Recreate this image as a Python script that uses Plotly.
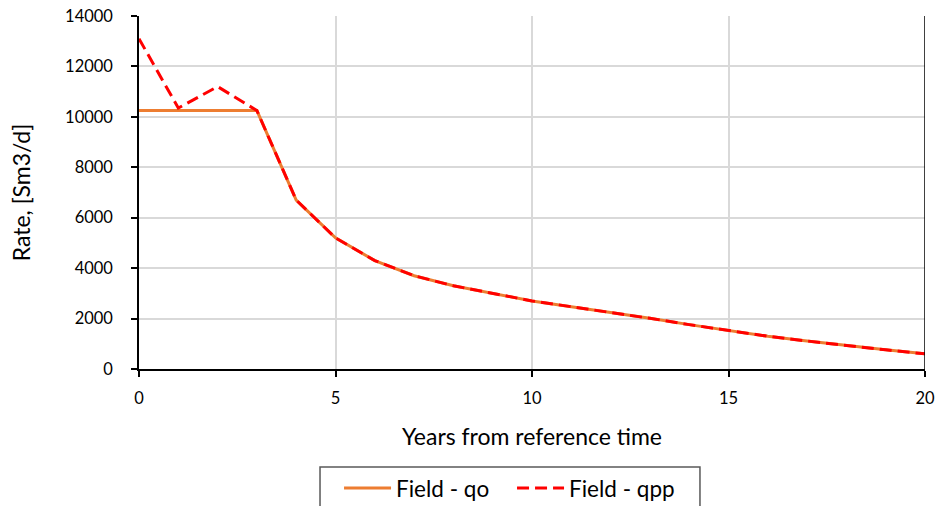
import plotly.graph_objects as go

# Years from reference time
years = list(range(0, 21))

# Field oil rate, qo [Sm3/d]
field_qo = [10250, 10250, 10250, 10250, 6700, 5200, 4300, 3700, 3300, 3000,
            2700, 2470, 2250, 2010, 1760, 1520, 1300, 1110, 920, 760, 600]

# Field production potential, qpp [Sm3/d]
field_qpp = [13100, 10350, 11200, 10250, 6700, 5200, 4300, 3700, 3300, 3000,
             2700, 2470, 2250, 2010, 1760, 1520, 1300, 1110, 920, 760, 600]

x_ticks = [0, 5, 10, 15, 20]
y_ticks = [0, 2000, 4000, 6000, 8000, 10000, 12000, 14000]

FONT = "Lato"
TXT = "#000000"

fig = go.Figure()
fig.add_trace(go.Scatter(
    x=years, y=field_qo, name="Field - qo", mode="lines",
    line=dict(color="#ED7D31", width=3),
))
fig.add_trace(go.Scatter(
    x=years, y=field_qpp, name="Field - qpp", mode="lines",
    line=dict(color="#FF0000", width=3, dash="12px,6px"),
))

# dark right-hand frame edge of the plot area
fig.add_shape(type="line", xref="x", yref="paper", x0=20, x1=20, y0=0, y1=1,
              line=dict(color="#000000", width=1.5), layer="above")

# frame around the legend (runs off the bottom of the page)
fig.add_shape(type="rect", xref="paper", yref="paper",
              x0=0.2303, x1=0.7137, y0=-0.2776, y1=-0.42,
              line=dict(color="#595959", width=1.5), fillcolor="rgba(0,0,0,0)",
              layer="above")

fig.update_layout(
    width=939, height=506,
    margin=dict(l=139, r=14, t=16, b=137, autoexpand=False),
    paper_bgcolor="white", plot_bgcolor="white",
    font=dict(family=FONT, size=16.5, color=TXT),
    showlegend=True,
    legend=dict(
        orientation="h", x=0.2545, xanchor="left", y=-0.2776, yanchor="top",
        borderwidth=0, bgcolor="rgba(0,0,0,0)",
        font=dict(family=FONT, size=22.5, color=TXT),
        itemwidth=47, entrywidth=111, entrywidthmode="pixels", tracegroupgap=0,
    ),
    xaxis=dict(
        range=[0, 20], tickvals=x_ticks, ticktext=[str(v) for v in x_ticks],
        showgrid=True, gridcolor="#D9D9D9", gridwidth=1.5,
        showline=True, linecolor="#000000", linewidth=1.5,
        ticks="outside", ticklen=6, tickcolor="#000000", tickwidth=1.5,
        ticklabelstandoff=7,
        zeroline=False,
        title=dict(text="Years from reference time", font=dict(size=23), standoff=22),
    ),
    yaxis=dict(
        range=[0, 14000], tickvals=y_ticks, ticktext=[str(v) for v in y_ticks],
        showgrid=True, gridcolor="#D9D9D9", gridwidth=1.5,
        showline=True, linecolor="#000000", linewidth=1.5,
        ticks="outside", ticklen=6, tickcolor="#000000", tickwidth=1.5,
        ticklabelstandoff=15,
        zeroline=False,
        title=dict(text="Rate, [Sm3/d]", font=dict(size=23), standoff=28),
    ),
)

fig.write_html("out.html")
